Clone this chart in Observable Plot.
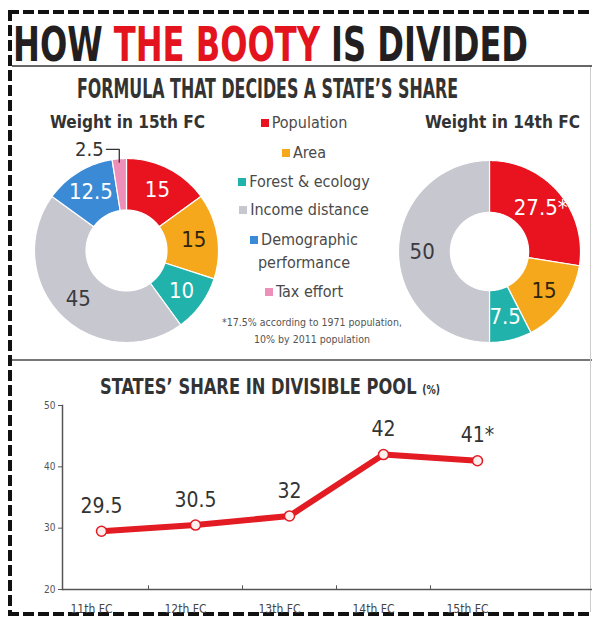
<!DOCTYPE html>
<html><head><meta charset="utf-8">
<script src="https://cdn.jsdelivr.net/npm/d3@7"></script>
<script src="https://cdn.jsdelivr.net/npm/@observablehq/plot@0.6"></script>
<style>
html,body{margin:0;padding:0;background:#fff;}
#page{position:relative;width:592px;height:617px;overflow:hidden;background:#fff;
  font-family:"DejaVu Sans Condensed","Liberation Sans Narrow","DejaVu Sans",sans-serif;font-stretch:condensed;color:#333;}
.abs{position:absolute;white-space:nowrap;line-height:1;}
.fit{transform-origin:0 0;}
.legend{position:absolute;left:229px;width:150px;text-align:center;font-size:16px;color:#4a4a4a;line-height:1;white-space:nowrap;}
.sw{display:inline-block;width:8px;height:8px;margin-right:3px;vertical-align:1px;}
.note{position:absolute;left:200px;width:224px;text-align:center;font-size:10.5px;color:#555;line-height:1;white-space:nowrap;}
</style></head>
<body>
<div id="page">
  <svg id="deco" width="592" height="617" style="position:absolute;left:0;top:0">
    <line x1="8" y1="12" x2="592" y2="12" stroke="#111" stroke-width="4" stroke-dasharray="11 4"/>
    <line x1="10" y1="10" x2="10" y2="616" stroke="#111" stroke-width="4" stroke-dasharray="11 4"/>
    <line x1="8" y1="614" x2="592" y2="614" stroke="#111" stroke-width="4" stroke-dasharray="11 4"/>
    <line x1="12" y1="66" x2="592" y2="66" stroke="#666" stroke-width="2"/>
    <line x1="12" y1="360" x2="592" y2="360" stroke="#777" stroke-width="2"/>
    <line x1="590.5" y1="67" x2="590.5" y2="612" stroke="#ccc" stroke-width="1"/>
  </svg>
  <div id="title" class="abs fit" data-w="515" style="left:13px;top:20px;font-size:48px;font-weight:bold;color:#231f20;">HOW <span style="color:#e3141d">THE BOOTY</span> IS DIVIDED</div>
  <div id="sub" class="abs fit" data-w="381" style="left:77px;top:76px;font-size:26px;font-weight:bold;color:#333;">FORMULA THAT DECIDES A STATE’S SHARE</div>
  <div class="abs fit" data-w="155" style="left:50px;top:114px;font-size:17px;font-weight:bold;color:#333;">Weight in 15th FC</div>
  <div class="abs fit" data-w="155" style="left:425px;top:114px;font-size:17px;font-weight:bold;color:#333;">Weight in 14th FC</div>
  <div id="legend"></div>
  <div class="note" style="top:317px">*17.5% according to 1971 population,</div>
  <div class="note" style="top:334px">10% by 2011 population</div>
  <div id="d15" style="position:absolute;left:5.5px;top:130px"></div>
  <div id="d14" style="position:absolute;left:389px;top:151px"></div>
  <div id="ltitle" class="abs fit" data-w="340" style="left:100px;top:377px;font-size:21px;font-weight:bold;color:#333;">STATES’ SHARE IN DIVISIBLE POOL <span style="font-size:12px">(%)</span></div>
  <div id="line" style="position:absolute;left:0;top:365px"></div>
</div>
<script>
// ---------- data ----------
const categories = ["Population","Area","Forest & ecology","Income distance","Demographic performance","Tax effort"];
const legendLines = [["Population"],["Area"],["Forest & ecology"],["Income distance"],["Demographic","performance"],["Tax effort"]];
const colors = ["#e8131f","#f6a81c","#21b3ab","#c6c7cf","#3b8ad6","#ee8fba"];
const labelInk = ["#ffffff","#2e2410","#ffffff","#3a3a40","#ffffff","#333333"];

const categories15 = ["Population","Area","Forest & ecology","Income distance","Demographic performance","Tax effort"];
const weights15 = [15, 15, 10, 45, 12.5, 2.5];
const labels15 = ["15","15","10","45","12.5","2.5"];

const categories14 = ["Population","Area","Forest & ecology","Income distance"];
const weights14 = [27.5, 15, 7.5, 50];
const labels14 = ["27.5*","15","7.5","50"];

const fcRounds = ["11th FC","12th FC","13th FC","14th FC","15th FC"];
const statesShare = [29.5, 30.5, 32, 42, 41];
const shareLabels = ["29.5","30.5","32","42","41*"];
const yTicks = [20, 30, 40, 50];

const FONT = '"DejaVu Sans Condensed","Liberation Sans Narrow","DejaVu Sans",sans-serif';

// ---------- legend ----------
const legendTops = [115, 145, 174, 202, 232, 284];
const leg = document.getElementById("legend");
legendLines.forEach((lines, i) => {
  lines.forEach((t, j) => {
    const d = document.createElement("div");
    d.className = "legend";
    d.style.top = (legendTops[i] + j * 23) + "px";
    d.innerHTML = (j === 0 ? `<span class="sw" style="background:${colors[i]}"></span>` : "") + t;
    leg.appendChild(d);
  });
});

// ---------- donuts ----------
function donut(cats, vals, labels, size, domainHalf, inner) {
  const arcs = d3.pie().sort(null).value(d => d)(vals);
  const poly = [], lab = [], outside = [], leader = [];
  arcs.forEach((a, i) => {
    const n = Math.max(3, Math.ceil((a.endAngle - a.startAngle) / 0.015));
    for (let k = 0; k <= n; k++) {
      const t = a.startAngle + (a.endAngle - a.startAngle) * k / n;
      poly.push({cat: cats[i], x: Math.sin(t), y: Math.cos(t)});
    }
    for (let k = n; k >= 0; k--) {
      const t = a.startAngle + (a.endAngle - a.startAngle) * k / n;
      poly.push({cat: cats[i], x: Math.sin(t) * inner, y: Math.cos(t) * inner});
    }
    const mid = (a.startAngle + a.endAngle) / 2;
    const ci = categories.indexOf(cats[i]);
    if (vals[i] < 5) {
      const px = Math.sin(mid);
      leader.push({x: px, y: 0.96}, {x: px, y: 1.1}, {x: px - 0.14, y: 1.1});
      outside.push({x: px - 0.17, y: 1.1, text: labels[i]});
    } else {
      const rl = 0.74;
      lab.push({x: Math.sin(mid) * rl, y: Math.cos(mid) * rl, text: labels[i], ink: labelInk[ci]});
    }
  });
  return Plot.plot({
    width: size, height: size, margin: 0,
    x: {domain: [-domainHalf, domainHalf], axis: null},
    y: {domain: [-domainHalf, domainHalf], axis: null},
    color: {domain: categories, range: colors},
    style: {background: "transparent", overflow: "visible"},
    marks: [
      Plot.line(poly, {x: "x", y: "y", z: "cat", fill: "cat", stroke: "#fff", strokeWidth: 1.2, curve: "linear-closed"}),
      Plot.text(lab, {x: "x", y: "y", text: "text", fill: d => d.ink, fontSize: 22, fontFamily: FONT}),
      Plot.line(leader, {x: "x", y: "y", stroke: "#333", strokeWidth: 1.3}),
      Plot.text(outside, {x: "x", y: "y", text: "text", textAnchor: "end", fill: "#333", fontSize: 20, fontFamily: FONT})
    ]
  });
}
document.getElementById("d15").appendChild(donut(categories15, weights15, labels15, 240, 120 / 92, 0.44));
document.getElementById("d14").appendChild(donut(categories14, weights14, labels14, 200, 100 / 91, 0.43));

// ---------- line chart ----------
const series = fcRounds.map((fc, i) => ({fc, v: statesShare[i], label: shareLabels[i]}));
const lineChart = Plot.plot({
  width: 592, height: 250,
  marginLeft: 62, marginRight: 0, marginTop: 40, marginBottom: 26,
  x: {type: "point", domain: fcRounds, range: [100, 477], padding: 0},
  y: {domain: [20, 50]},
  style: {background: "transparent", overflow: "visible", fontFamily: FONT},
  marks: [
    Plot.frame({anchor: "left", stroke: "#555", strokeWidth: 1.5}),
    Plot.ruleY([20], {stroke: "#555", strokeWidth: 1.5}),
    Plot.axisY(yTicks, {tickSize: 4, tickPadding: 3, fontSize: 10, fill: "#555", stroke: "#555", label: null}),
    Plot.axisX({tickSize: 0, tickPadding: 15, fontSize: 12, dx: -10, fill: "#444", label: null}),
    Plot.ruleX(fcRounds.slice(1), {x: d => d, y1: 20, y2: 20.6, dx: -47, stroke: "#555"}),
    Plot.line(series, {x: "fc", y: "v", stroke: "#e31b23", strokeWidth: 6}),
    Plot.dot(series, {x: "fc", y: "v", r: 5, fill: "#fdeeee", stroke: "#e31b23", strokeWidth: 1.5}),
    Plot.text(series, {x: "fc", y: "v", text: "label", dy: -25, fontSize: 21, fill: "#333", fontFamily: FONT})
  ]
});
document.getElementById("line").appendChild(lineChart);

// ---------- fit condensed headings ----------
document.querySelectorAll(".fit").forEach(el => {
  const w = el.getBoundingClientRect().width;
  const target = +el.dataset.w;
  if (w > 0 && target) el.style.transform = `scaleX(${target / w})`;
});
</script>
</body></html>
